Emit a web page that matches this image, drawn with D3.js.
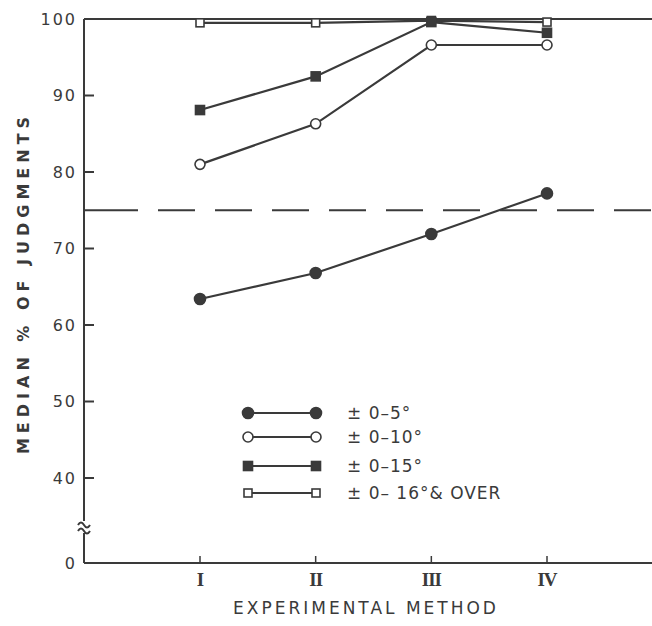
<!DOCTYPE html>
<html><head><meta charset="utf-8">
<script src="https://cdn.jsdelivr.net/npm/d3@7"></script>
<style>body{margin:0;background:#fff}svg{display:block}</style>
</head><body>
<script>
const methods = ["I","II","III","IV"];
const yTicks = [40,50,60,70,80,90,100];
const s05  = [63.4, 66.8, 71.9, 77.2];
const s010 = [81.0, 86.3, 96.6, 96.6];
const s015 = [88.1, 92.5, 99.6, 98.2];
const s016 = [99.5, 99.5, 99.8, 99.6];
const legendLabels = ["0\u20135\u00b0","0\u201310\u00b0","0\u201315\u00b0","0\u2013 16\u00b0& OVER"];
const threshold = 75;

const W=652,H=626, ink="#3a3a3a";
const svg=d3.select("body").append("svg").attr("width",W).attr("height",H);
const x=d3.scalePoint().domain(methods).range([200,547]);
const y=d3.scaleLinear().domain([0,40,100]).range([563,478,19]);
const X0=84;

const g=svg.append("g").attr("stroke",ink).attr("fill","none");
g.append("line").attr("x1",X0).attr("x2",X0).attr("y1",y(100)).attr("y2",y(0)).attr("stroke-width",2);
g.append("line").attr("x1",X0).attr("x2",W).attr("y1",y(0)).attr("y2",y(0)).attr("stroke-width",2);
g.append("line").attr("x1",X0).attr("x2",W).attr("y1",y(100)).attr("y2",y(100)).attr("stroke-width",2);
yTicks.forEach(t=>{
  if(t<100) g.append("line").attr("x1",X0).attr("x2",X0+10).attr("y1",y(t)).attr("y2",y(t)).attr("stroke-width",2);
});
const tf="'DejaVu Sans', sans-serif";
svg.append("g").selectAll("text").data(yTicks.concat([0])).join("text")
  .attr("x",77).attr("y",d=>y(d)).attr("dy","0.36em").attr("text-anchor","end")
  .attr("font-family",tf).attr("font-size",16).attr("fill",ink).attr("letter-spacing",2)
  .text(d=>d);
const by=527;
svg.append("rect").attr("x",X0-5).attr("y",by-6).attr("width",10).attr("height",12).attr("fill","#fff");
[-3,3].forEach(o=>{
  svg.append("path").attr("d",`M${X0-6},${by+o+1} q3,-5 6,0 t6,0`).attr("fill","none").attr("stroke",ink).attr("stroke-width",2);
});
methods.forEach(m=>{
  g.append("line").attr("x1",x(m)).attr("x2",x(m)).attr("y1",y(0)).attr("y2",y(0)-7).attr("stroke-width",1.5);
});
svg.append("g").selectAll("text").data(methods).join("text")
  .attr("x",d=>x(d)).attr("y",586).attr("text-anchor","middle")
  .attr("font-family","'Liberation Serif', serif").attr("font-weight","bold").attr("font-size",19)
  .attr("letter-spacing",-1).attr("fill",ink).attr("transform-origin","center")
  .text(d=>d);
svg.append("text").attr("x",366).attr("y",614).attr("text-anchor","middle")
  .attr("font-family",tf).attr("font-size",17).attr("letter-spacing",3).attr("fill",ink)
  .text("EXPERIMENTAL METHOD");
svg.append("text").attr("transform","translate(29,283) rotate(-90)").attr("text-anchor","middle")
  .attr("font-family",tf).attr("font-weight","bold").attr("font-size",16).attr("letter-spacing",5).attr("fill",ink)
  .text("MEDIAN % OF JUDGMENTS");

svg.append("line").attr("x1",X0).attr("x2",W).attr("y1",y(threshold)).attr("y2",y(threshold))
  .attr("stroke",ink).attr("stroke-width",2.2).attr("stroke-dasharray","54,20,37,20,37,20,37,20,37,20,37,20,37,20,37,20,37,20,37,20");

const series=[
  {v:s05, shape:"circle", fill:true},
  {v:s010,shape:"circle", fill:false},
  {v:s015,shape:"square", fill:true},
  {v:s016,shape:"square", fill:false}
];
const line=d3.line().x((d,i)=>x(methods[i])).y(d=>y(d));
function marker(sel,shape,fill,cx,cy){
  if(shape==="circle") sel.append("circle").attr("cx",cx).attr("cy",cy).attr("r",fill?5.5:5)
     .attr("fill",fill?ink:"#fff").attr("stroke",ink).attr("stroke-width",1.6);
  else { const s=fill?9:8; sel.append("rect").attr("x",cx-s/2).attr("y",cy-s/2).attr("width",s).attr("height",s)
     .attr("fill",fill?ink:"#fff").attr("stroke",ink).attr("stroke-width",1.6); }
}
series.slice().reverse().forEach(s=>{
  svg.append("path").attr("d",line(s.v)).attr("fill","none").attr("stroke",ink).attr("stroke-width",2.2);
});
series.slice().reverse().forEach(s=>{
  s.v.forEach((d,i)=>marker(svg,s.shape,s.fill,x(methods[i]),y(d)));
});

const ly=[413,437,466,493];
series.forEach((s,i)=>{
  svg.append("line").attr("x1",248).attr("x2",316).attr("y1",ly[i]).attr("y2",ly[i]).attr("stroke",ink).attr("stroke-width",2);
  marker(svg,s.shape,s.fill,248,ly[i]);
  marker(svg,s.shape,s.fill,316,ly[i]);
  svg.append("text").attr("x",347).attr("y",ly[i]).attr("dy","0.36em")
    .attr("font-family",tf).attr("font-size",17).attr("letter-spacing",1).attr("fill",ink)
    .text("\u00b1 "+legendLabels[i]);
});
</script>
</body></html>
